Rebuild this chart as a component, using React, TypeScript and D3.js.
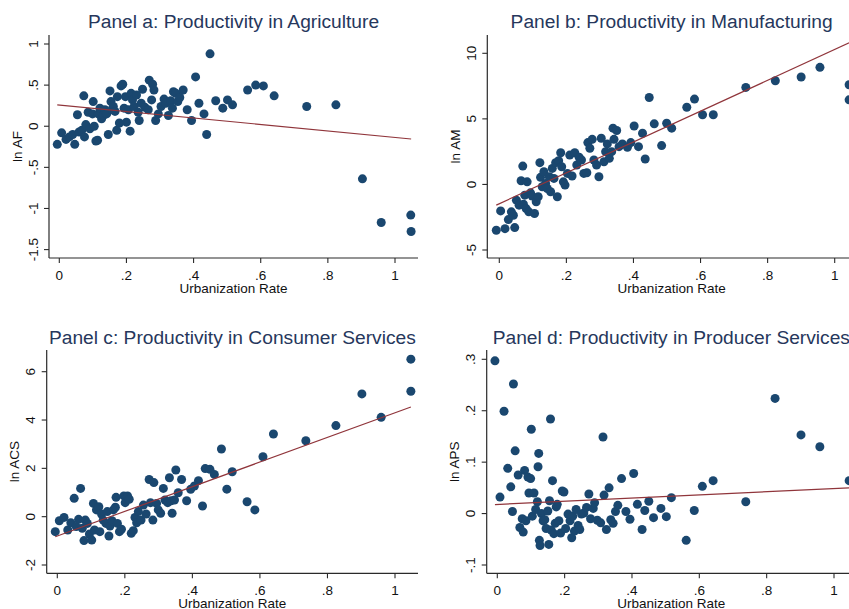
import React from "react";
import * as d3 from "d3";

// Urbanization rate and log productivity by sector
const aUrban = [-0.006, 0.007, 0.02, 0.03, 0.04, 0.046, 0.054, 0.059, 0.067, 0.073, 0.075, 0.079, 0.086, 0.091, 0.099, 0.101, 0.104, 0.109, 0.114, 0.116, 0.121, 0.126, 0.131, 0.136, 0.141, 0.146, 0.151, 0.154, 0.157, 0.161, 0.166, 0.171, 0.173, 0.179, 0.184, 0.189, 0.193, 0.197, 0.2, 0.206, 0.211, 0.214, 0.218, 0.223, 0.23, 0.235, 0.238, 0.244, 0.248, 0.255, 0.265, 0.268, 0.275, 0.278, 0.282, 0.287, 0.295, 0.303, 0.312, 0.317, 0.325, 0.332, 0.337, 0.34, 0.347, 0.353, 0.359, 0.369, 0.381, 0.394, 0.406, 0.416, 0.431, 0.439, 0.449, 0.466, 0.487, 0.501, 0.516, 0.561, 0.585, 0.608, 0.64, 0.737, 0.824, 0.903, 0.959, 1.047, 1.048];
const aLnAF = [-0.22, -0.08, -0.16, -0.13, -0.1, -0.22, 0.14, -0.07, -0.05, 0.37, -0.13, 0.02, 0.17, -0.03, 0.15, 0.3, 0.0, -0.18, -0.17, 0.15, 0.22, 0.09, 0.13, 0.2, 0.15, -0.1, 0.43, 0.3, 0.2, 0.24, 0.18, -0.05, 0.36, 0.04, 0.49, 0.51, 0.22, 0.36, 0.05, 0.2, -0.06, 0.4, 0.32, 0.24, 0.38, 0.17, 0.07, 0.28, 0.45, 0.23, 0.2, 0.56, 0.32, 0.51, 0.44, 0.07, 0.15, 0.24, 0.33, 0.28, 0.13, 0.31, 0.22, 0.42, 0.4, 0.3, 0.35, 0.44, 0.2, 0.07, 0.6, 0.28, 0.15, -0.1, 0.88, 0.31, 0.22, 0.32, 0.26, 0.44, 0.5, 0.49, 0.37, 0.24, 0.26, -0.64, -1.17, -1.08, -1.28];

const bUrban = [-0.009, 0.004, 0.017, 0.027, 0.036, 0.042, 0.046, 0.051, 0.059, 0.065, 0.07, 0.072, 0.076, 0.08, 0.083, 0.088, 0.093, 0.098, 0.105, 0.11, 0.116, 0.121, 0.123, 0.128, 0.133, 0.138, 0.143, 0.149, 0.153, 0.158, 0.163, 0.168, 0.173, 0.177, 0.183, 0.186, 0.191, 0.196, 0.203, 0.21, 0.217, 0.225, 0.231, 0.238, 0.245, 0.252, 0.261, 0.264, 0.27, 0.277, 0.282, 0.29, 0.297, 0.304, 0.312, 0.317, 0.322, 0.328, 0.335, 0.339, 0.342, 0.35, 0.357, 0.367, 0.382, 0.392, 0.402, 0.415, 0.427, 0.435, 0.447, 0.462, 0.484, 0.499, 0.514, 0.559, 0.582, 0.606, 0.638, 0.735, 0.823, 0.9, 0.956, 1.043, 1.043];
const bLnAM = [-3.49, -2.02, -3.37, -2.68, -2.09, -2.35, -3.29, -1.2, -1.58, 0.28, 1.4, -1.51, -0.82, -1.84, 0.2, -2.09, -0.64, -0.89, -2.22, -1.33, -0.94, 1.66, 0.54, -0.18, 0.97, 0.08, -0.31, 0.59, -0.56, 1.22, 0.46, 1.66, -0.94, 1.81, 2.42, 1.35, 0.2, -0.05, 0.84, 2.24, 0.64, 2.42, 1.48, 2.07, 1.86, 0.84, 0.89, 3.19, 2.76, 3.44, 1.86, 1.48, 0.59, 3.52, 1.73, 2.5, 3.09, 1.99, 2.5, 4.29, 3.44, 4.11, 2.88, 3.09, 2.83, 3.19, 4.46, 2.88, 3.9, 1.94, 6.63, 4.62, 2.96, 4.67, 4.29, 5.89, 6.51, 5.31, 5.31, 7.4, 7.91, 8.19, 8.93, 7.6, 6.45];

const cUrban = [-0.006, 0.006, 0.02, 0.031, 0.04, 0.05, 0.056, 0.063, 0.069, 0.074, 0.079, 0.083, 0.089, 0.095, 0.102, 0.107, 0.11, 0.116, 0.123, 0.126, 0.131, 0.136, 0.144, 0.148, 0.153, 0.156, 0.162, 0.166, 0.172, 0.174, 0.178, 0.184, 0.19, 0.197, 0.201, 0.208, 0.213, 0.219, 0.225, 0.23, 0.235, 0.24, 0.248, 0.255, 0.263, 0.272, 0.276, 0.283, 0.286, 0.294, 0.299, 0.306, 0.314, 0.319, 0.327, 0.332, 0.337, 0.34, 0.347, 0.351, 0.358, 0.368, 0.383, 0.395, 0.406, 0.418, 0.43, 0.438, 0.452, 0.465, 0.486, 0.502, 0.518, 0.562, 0.585, 0.609, 0.64, 0.736, 0.825, 0.902, 0.959, 1.047, 1.047];
const cLnACS = [-0.62, -0.17, -0.03, -0.55, -0.25, 0.76, -0.41, -0.11, 1.17, -0.48, -0.99, -0.14, -0.28, -0.72, -0.97, 0.55, -0.55, 0.28, 0.41, -0.62, 0.11, -0.14, -0.28, 0.21, -0.8, -0.39, -0.17, 0.28, 0.39, 0.8, -0.28, -0.62, -0.52, 0.86, 0.58, 0.86, 0.72, -0.69, -0.58, -0.03, -0.25, 0.21, -0.14, 0.48, 0.11, 1.54, 0.58, -0.14, 1.41, 0.55, 0.28, 0.14, 1.17, 0.69, 0.58, 1.61, 0.66, 0.14, 0.69, 1.93, 0.99, 1.54, 0.66, 1.13, 1.27, 1.49, 0.44, 1.99, 1.96, 1.75, 2.8, 1.14, 1.86, 0.62, 0.28, 2.48, 3.42, 3.14, 3.77, 5.08, 4.11, 6.52, 5.19];

const dUrban = [-0.007, 0.008, 0.02, 0.031, 0.04, 0.045, 0.048, 0.053, 0.062, 0.067, 0.074, 0.077, 0.081, 0.085, 0.091, 0.094, 0.099, 0.101, 0.104, 0.109, 0.114, 0.119, 0.121, 0.123, 0.125, 0.127, 0.131, 0.136, 0.141, 0.145, 0.15, 0.153, 0.155, 0.158, 0.16, 0.164, 0.168, 0.172, 0.175, 0.178, 0.183, 0.188, 0.193, 0.198, 0.203, 0.21, 0.216, 0.221, 0.224, 0.229, 0.234, 0.24, 0.245, 0.25, 0.257, 0.265, 0.272, 0.277, 0.285, 0.289, 0.297, 0.307, 0.314, 0.317, 0.324, 0.332, 0.337, 0.344, 0.351, 0.358, 0.369, 0.382, 0.394, 0.405, 0.416, 0.43, 0.438, 0.45, 0.464, 0.486, 0.502, 0.517, 0.561, 0.585, 0.609, 0.641, 0.738, 0.825, 0.902, 0.958, 1.045];
const dLnAPS = [0.297, 0.032, 0.199, 0.088, 0.052, 0.004, 0.252, 0.122, 0.075, -0.027, -0.01, -0.036, 0.084, -0.014, 0.071, 0.04, 0.068, 0.164, -0.005, 0.04, 0.008, 0.023, 0.091, 0.117, -0.052, -0.062, 0.0, -0.014, -0.012, -0.029, 0.005, -0.06, 0.025, 0.184, -0.032, 0.064, -0.039, -0.019, 0.013, 0.018, -0.014, -0.038, 0.044, 0.042, -0.029, -0.001, -0.014, -0.047, -0.005, -0.034, 0.008, -0.023, -0.031, -0.001, 0.001, 0.012, 0.038, -0.01, 0.01, 0.021, -0.013, -0.018, 0.149, 0.036, -0.031, 0.05, -0.012, -0.019, 0.004, 0.016, 0.068, 0.004, -0.011, 0.078, 0.018, -0.031, 0.006, 0.024, -0.008, 0.01, -0.006, 0.031, -0.052, 0.006, 0.053, 0.064, 0.023, 0.224, 0.153, 0.13, 0.064];

// Linear fit: [intercept, slope]
const fitA = [0.258, -0.394];
const fitB = [-1.47, 11.76];
const fitC = [-0.8, 5.1];
const fitD = [0.0177, 0.031];

const xTicks = [0, 0.2, 0.4, 0.6, 0.8, 1];
const xTickLabels = ["0", ".2", ".4", ".6", ".8", "1"];
const aYTicks = [1, 0.5, 0, -0.5, -1, -1.5];
const aYTickLabels = ["1", ".5", "0", "-.5", "-1", "-1.5"];
const bYTicks = [10, 5, 0, -5];
const bYTickLabels = ["10", "5", "0", "-5"];
const cYTicks = [6, 4, 2, 0, -2];
const cYTickLabels = ["6", "4", "2", "0", "-2"];
const dYTicks = [0.3, 0.2, 0.1, 0, -0.1];
const dYTickLabels = [".3", ".2", ".1", "0", "-.1"];

const FONT = "'Liberation Sans', Arial, Helvetica, sans-serif";
const MARKER = "#1a476f";
const FITLINE = "#90353b";
const TITLE = "#26375c";
const AXIS = "#2a2a2a";

type PanelProps = {
  title: string;
  yLabel: string;
  xs: number[];
  ys: number[];
  fit: number[];
  yTicks: number[];
  yTickLabels: string[];
  xRange: [number, number];
  yDomain: [number, number];
  yRange: [number, number];
  axisX: number;
  top: number;
  bottom: number;
  right: number;
  titleY: number;
};

function Panel(p: PanelProps) {
  const x = d3.scaleLinear().domain([0, 1]).range(p.xRange);
  const y = d3.scaleLinear().domain(p.yDomain).range(p.yRange);
  const [x0, x1] = d3.extent(p.xs) as [number, number];
  const fitLine = d3
    .line<number>()
    .x((v) => x(v))
    .y((v) => y(p.fit[0] + p.fit[1] * v));
  const cx = (p.axisX + p.right) / 2;
  const cy = (p.top + p.bottom) / 2;
  return (
    <g fontFamily={FONT}>
      <text
        x={cx}
        y={p.titleY}
        textAnchor="middle"
        fontSize={19.2}
        fill={TITLE}
      >
        {p.title}
      </text>
      <line x1={p.axisX} x2={p.axisX} y1={p.top} y2={p.bottom} stroke={AXIS} strokeWidth={1.2} />
      <line x1={p.axisX} x2={p.right} y1={p.bottom} y2={p.bottom} stroke={AXIS} strokeWidth={1.2} />
      {p.yTicks.map((t, i) => (
        <g key={"yt" + i}>
          <line x1={p.axisX - 5} x2={p.axisX} y1={y(t)} y2={y(t)} stroke={AXIS} strokeWidth={1.1} />
          <text
            transform={`translate(${p.axisX - 16},${y(t)}) rotate(-90)`}
            textAnchor="middle"
            dy="0.35em"
            fontSize={13.5}
            fill="#111"
          >
            {p.yTickLabels[i]}
          </text>
        </g>
      ))}
      {xTicks.map((t, i) => (
        <g key={"xt" + i}>
          <line x1={x(t)} x2={x(t)} y1={p.bottom} y2={p.bottom + 5} stroke={AXIS} strokeWidth={1.1} />
          <text x={x(t)} y={p.bottom + 21.5} textAnchor="middle" fontSize={13.5} fill="#111">
            {xTickLabels[i]}
          </text>
        </g>
      ))}
      <text x={cx} y={p.bottom + 35} textAnchor="middle" fontSize={13.5} fill="#111">
        Urbanization Rate
      </text>
      <text
        transform={`translate(${p.axisX - 32},${cy}) rotate(-90)`}
        textAnchor="middle"
        dy="0.35em"
        fontSize={13.5}
        fill="#111"
      >
        {p.yLabel}
      </text>
      {p.xs.map((v, i) => (
        <circle key={"pt" + i} cx={x(v)} cy={y(p.ys[i])} r={4.5} fill={MARKER} />
      ))}
      <path d={fitLine([x0, x1]) || ""} fill="none" stroke={FITLINE} strokeWidth={1.2} />
    </g>
  );
}

export default function App() {
  return (
    <svg
      width={849}
      height={609}
      style={{ position: "absolute", left: 0, top: 0, background: "#fff" }}
    >
      <rect width={849} height={609} fill="#fff" />
      <Panel
        title="Panel a: Productivity in Agriculture"
        yLabel="ln AF"
        xs={aUrban}
        ys={aLnAF}
        fit={fitA}
        yTicks={aYTicks}
        yTickLabels={aYTickLabels}
        xRange={[59.3, 395]}
        yDomain={[-1.5, 1]}
        yRange={[249.6, 44]}
        axisX={49}
        top={35}
        bottom={258}
        right={418}
        titleY={28.3}
      />
      <Panel
        title="Panel b: Productivity in Manufacturing"
        yLabel="ln AM"
        xs={bUrban}
        ys={bLnAM}
        fit={fitB}
        yTicks={bYTicks}
        yTickLabels={bYTickLabels}
        xRange={[499.3, 834.7]}
        yDomain={[-5, 10]}
        yRange={[250, 53.3]}
        axisX={487.3}
        top={35}
        bottom={258}
        right={856}
        titleY={28.3}
      />
      <Panel
        title="Panel c: Productivity in Consumer Services"
        yLabel="ln ACS"
        xs={cUrban}
        ys={cLnACS}
        fit={fitC}
        yTicks={cYTicks}
        yTickLabels={cYTickLabels}
        xRange={[57.3, 395]}
        yDomain={[-2, 6]}
        yRange={[565, 371.7]}
        axisX={46.7}
        top={350}
        bottom={573.3}
        right={418}
        titleY={344.3}
      />
      <Panel
        title="Panel d: Productivity in Producer Services"
        yLabel="ln APS"
        xs={dUrban}
        ys={dLnAPS}
        fit={fitD}
        yTicks={dYTicks}
        yTickLabels={dYTickLabels}
        xRange={[497.3, 834]}
        yDomain={[-0.1, 0.3]}
        yRange={[565, 359.3]}
        axisX={486.7}
        top={350}
        bottom={573.3}
        right={856}
        titleY={344.3}
      />
    </svg>
  );
}
